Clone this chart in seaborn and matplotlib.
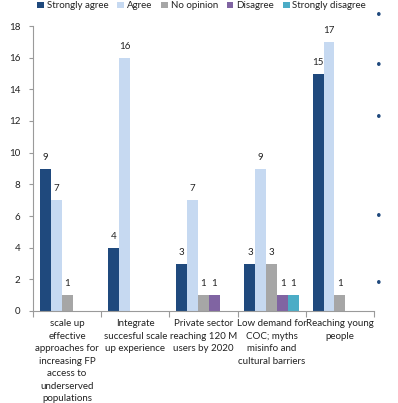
import matplotlib
matplotlib.use("Agg")
import matplotlib.pyplot as plt
import seaborn as sns
import pandas as pd
from matplotlib.ticker import FixedLocator

categories = [
    "scale up\neffective\napproaches for\nincreasing FP\naccess to\nunderserved\npopulations",
    "Integrate\nsuccesful scale\nup experience",
    "Private sector\nreaching 120 M\nusers by 2020",
    "Low demand for\nCOC; myths\nmisinfo and\ncultural barriers",
    "Reaching young\npeople",
]
responses = ["Strongly agree", "Agree", "No opinion", "Disagree", "Strongly disagree"]
strongly_agree = [9, 4, 3, 3, 15]
agree = [7, 16, 7, 9, 17]
no_opinion = [1, 0, 1, 3, 1]
disagree = [0, 0, 1, 1, 0]
strongly_disagree = [0, 0, 0, 1, 0]
palette = ["#1F497D", "#C6D9F1", "#A6A6A6", "#8064A2", "#4BACC6"]

series = [strongly_agree, agree, no_opinion, disagree, strongly_disagree]
rows = []
for resp, vals in zip(responses, series):
    for cat, v in zip(categories, vals):
        rows.append({"topic": cat, "response": resp, "count": v})
df = pd.DataFrame(rows)

sns.set_style("white")
plt.rcParams["font.family"] = ["Lato", "DejaVu Sans"]

fig = plt.figure(figsize=(3.98, 4.03), dpi=100)
ax = fig.add_axes([33 / 398, 1 - 311 / 403, (374 - 33) / 398, (311 - 26) / 403])

sns.barplot(data=df, x="topic", y="count", hue="response", order=categories,
            hue_order=responses, palette=palette, width=0.8, saturation=1,
            linewidth=0, ax=ax, legend=True)

# value labels above non-zero bars
for container in ax.containers:
    labels = [f"{int(b.get_height())}" if b.get_height() > 0 else "" for b in container]
    ax.bar_label(container, labels=labels, padding=5, fontsize=7, color="#222222")

ax.set_xlim(-0.5, 4.5)
ax.set_ylim(0, 18)
ax.set_yticks(range(0, 19, 2))
ax.set_xlabel("")
ax.set_ylabel("")

for side in ["top", "right"]:
    ax.spines[side].set_visible(False)
for side in ["left", "bottom"]:
    ax.spines[side].set_color("#9a9a9a")
    ax.spines[side].set_linewidth(0.8)

ax.tick_params(axis="y", length=3, width=0.8, color="#9a9a9a", labelsize=7,
               labelcolor="#222222", pad=6, left=True)
ax.tick_params(axis="x", which="major", length=0, labelsize=7,
               labelcolor="#222222", pad=6)
ax.xaxis.set_minor_locator(FixedLocator([i - 0.5 for i in range(len(categories) + 1)]))
ax.tick_params(axis="x", which="minor", length=4, width=0.8, color="#9a9a9a", bottom=True)
for lbl in ax.get_xticklabels():
    lbl.set_linespacing(1.5)
    lbl.set_verticalalignment("top")

leg = ax.legend(loc="upper left", bbox_to_anchor=(0.0, 1.1), ncol=5, frameon=False,
                fontsize=7, handlelength=0.7, handleheight=0.7, handletextpad=0.3,
                columnspacing=0.9, borderaxespad=0)
for t in leg.get_texts():
    t.set_color("#222222")

# slide bullet marks along the right edge
for yp in [15, 64, 117, 215, 283]:
    fig.text(379 / 398, 1 - yp / 403, "\u2022", ha="center", va="center",
             fontsize=7, color="#1F497D")

fig.savefig("out.png", dpi=100)
